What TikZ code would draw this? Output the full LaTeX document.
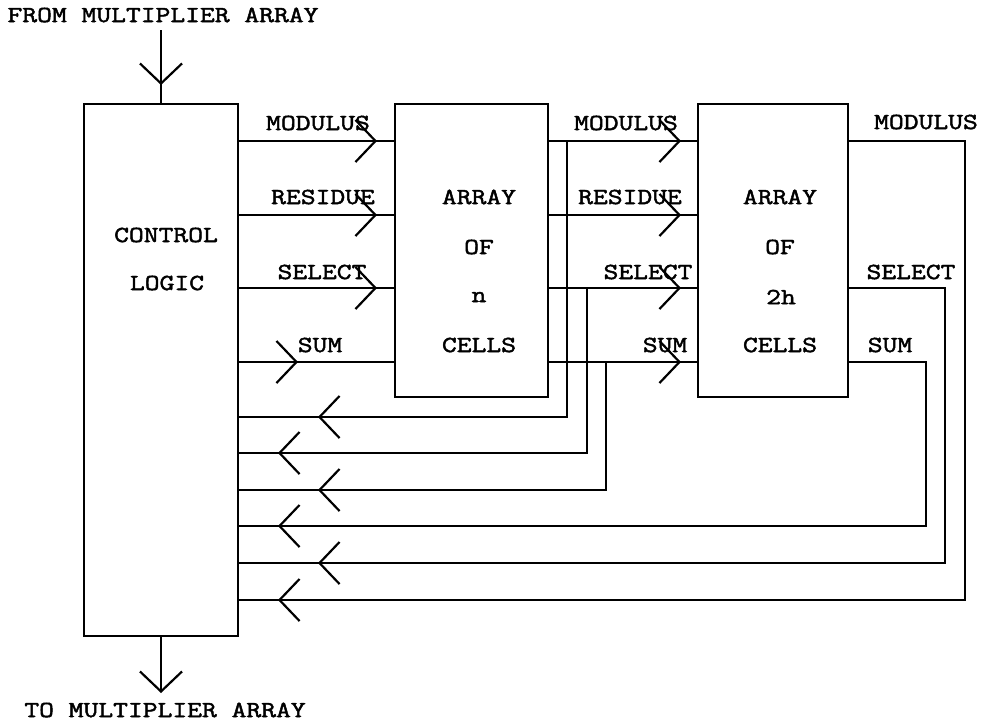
\documentclass[tikz,border=0pt]{standalone}
\usepackage{fontspec}
\newfontfamily\cour[FakeStretch=1.25,FakeBold=2]{Latin Modern Mono}
\usetikzlibrary{arrows.meta,decorations.markings}
\tikzset{barb/.tip={Straight Barb[length=20pt,width=42pt,line width=2.2pt]}}
\begin{document}
\begin{tikzpicture}[x=1pt,y=-1pt,line width=1.8pt,
  lbl/.style={font=\cour\fontsize{23}{23}\selectfont,inner sep=0pt},
  box/.style={draw,rectangle,inner sep=0pt,outer sep=0pt},
  vv/.style={postaction={decorate},decoration={markings,mark=at position #1 with {\arrow{barb}}}}]
\useasboundingbox (0,0) rectangle (988,724);
% levels
\coordinate (yMod) at (0,141);
\coordinate (yRes) at (0,215);
\coordinate (ySel) at (0,288);
\coordinate (ySum) at (0,362);
\coordinate (f1) at (0,417);
\coordinate (f2) at (0,453);
\coordinate (f3) at (0,490);
\coordinate (f4) at (0,526);
\coordinate (f5) at (0,563);
\coordinate (f6) at (0,600);
\coordinate (xM) at (965,0);
\coordinate (xS) at (945,0);
\coordinate (xU) at (926,0);
% boxes
\node[box,minimum width=154pt,minimum height=532pt] (ctrl) at (161,370) {};
\node[box,minimum width=153pt,minimum height=293pt] (arrn) at (471.5,250.5) {};
\node[box,minimum width=150pt,minimum height=293pt] (arr2) at (773,250.5) {};
% texts
\node[lbl] (fromtxt) at (163,15) {FROM MULTIPLIER ARRAY};
\node[lbl] (totxt) at (165,710) {TO MULTIPLIER ARRAY};
\node[lbl] (ctA) at (166,235) {CONTROL};
\node[lbl] (ctB) at (167,283) {LOGIC};
\node[lbl] (n1) at (479,197) {ARRAY};
\node[lbl] (n2) at (479,247) {OF};
\node[lbl] (n3) at (479,297) {n};
\node[lbl] (n4) at (479,345) {CELLS};
\node[lbl] (h1) at (780,197) {ARRAY};
\node[lbl] (h2) at (780,247) {OF};
\node[lbl] (h3) at (781,297) {2h};
\node[lbl] (h4) at (780,345) {CELLS};
\node[lbl] (l1) at (318,123) {MODULUS};
\node[lbl] (l2) at (323,197) {RESIDUE};
\node[lbl] (l3) at (322,272) {SELECT};
\node[lbl] (l4) at (320,345) {SUM};
\node[lbl] (m1) at (626,123) {MODULUS};
\node[lbl] (m2) at (630,197) {RESIDUE};
\node[lbl] (m3) at (648,272) {SELECT};
\node[lbl] (m4) at (665,345) {SUM};
\node[lbl] (r1) at (926,122) {MODULUS};
\node[lbl] (r3) at (911,272) {SELECT};
\node[lbl] (r4) at (890,345) {SUM};
% in / out
\coordinate (topin) at (161,30);
\coordinate (botout) at (161,693);
\draw[vv=-19pt] (topin) -- (ctrl.north);
\draw[-{barb}] (ctrl.south) -- (botout);
% stage 1
\draw[vv=-18pt] (ctrl.east |- yMod) -- (arrn.west |- yMod);
\draw[vv=-18pt] (ctrl.east |- yRes) -- (arrn.west |- yRes);
\draw[vv=-18pt] (ctrl.east |- ySel) -- (arrn.west |- ySel);
\draw[vv=-97pt] (ctrl.east |- ySum) -- (arrn.west |- ySum);
% stage 2
\draw[vv=-17pt] (arrn.east |- yMod) -- (arr2.west |- yMod);
\draw[vv=-17pt] (arrn.east |- yRes) -- (arr2.west |- yRes);
\draw[vv=-17pt] (arrn.east |- ySel) -- (arr2.west |- ySel);
\draw[vv=-17pt] (arrn.east |- ySum) -- (arr2.west |- ySum);
% taps from stage 1 outputs
\coordinate (jM) at (567,141);
\coordinate (jS) at (587,288);
\coordinate (jU) at (606,362);
\draw[vv=-80pt] (jM) |- (ctrl.east |- f1);
\draw[vv=-40pt] (jS) |- (ctrl.east |- f2);
\draw[vv=-80pt] (jU) |- (ctrl.east |- f3);
% stage 2 outputs fed back
\draw[vv=-40pt] (arr2.east |- ySum) -| (xU |- f4) -- (ctrl.east |- f4);
\draw[vv=-80pt] (arr2.east |- ySel) -| (xS |- f5) -- (ctrl.east |- f5);
\draw[vv=-40pt] (arr2.east |- yMod) -| (xM |- f6) -- (ctrl.east |- f6);
\end{tikzpicture}
\end{document}
